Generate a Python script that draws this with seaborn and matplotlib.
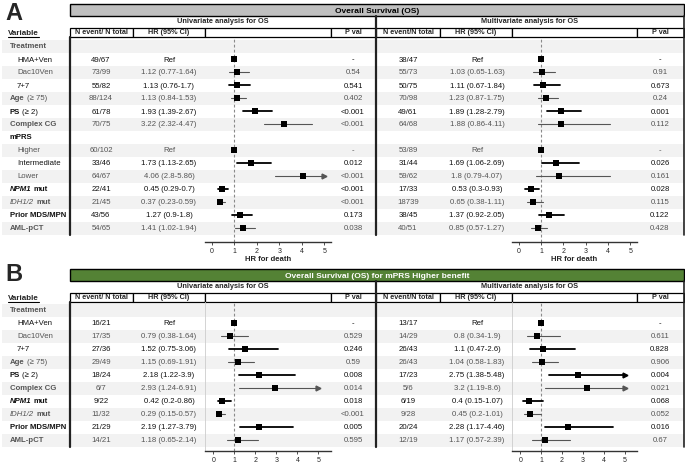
import numpy as np
import pandas as pd
import matplotlib
matplotlib.use("Agg")
import matplotlib.pyplot as plt
import seaborn as sns
from matplotlib.patches import Rectangle

nan = np.nan

# ---- Panel A data ----
labels_A = [
    [("Treatment", "bold")], [("HMA+Ven", "normal")], [("Dac10Ven", "normal")], [("7+7", "normal")],
    [("Age", "bold"), ("(≥ 75)", "normal")], [("PS", "bold"), ("(≥ 2)", "normal")],
    [("Complex CG", "bold")], [("mPRS", "bold")], [("Higher", "normal")], [("Intermediate", "normal")],
    [("Lower", "normal")], [("NPM1", "bolditalic"), ("mut", "bold")], [("IDH1/2", "italic"), ("mut", "bold")],
    [("Prior MDS/MPN", "bold")], [("AML-pCT", "bold")],
]
indent_A = [0, 1, 1, 1, 0, 0, 0, 0, 1, 1, 1, 0, 0, 0, 0]

n_A_uni = ["", "49/67", "73/99", "55/82", "88/124", "61/78", "70/75", "", "60/102", "33/46", "64/67",
           "22/41", "21/45", "43/56", "54/65"]
hr_A_uni = [nan, 1, 1.12, 1.13, 1.13, 1.93, 3.22, nan, 1, 1.73, 4.06, 0.45, 0.37, 1.27, 1.41]
lo_A_uni = [nan, nan, 0.77, 0.76, 0.84, 1.39, 2.32, nan, nan, 1.13, 2.8, 0.29, 0.23, 0.9, 1.02]
hi_A_uni = [nan, nan, 1.64, 1.7, 1.53, 2.67, 4.47, nan, nan, 2.65, 5.86, 0.7, 0.59, 1.8, 1.94]
p_A_uni = ["", "-", "0.54", "0.541", "0.402", "<0.001", "<0.001", "", "-", "0.012", "<0.001",
           "<0.001", "<0.001", "0.173", "0.038"]

n_A_mv = ["", "38/47", "55/73", "50/75", "70/98", "49/61", "64/68", "", "53/89", "31/44", "59/62",
          "17/33", "18739", "38/45", "40/51"]
hr_A_mv = [nan, 1, 1.03, 1.11, 1.23, 1.89, 1.88, nan, 1, 1.69, 1.8, 0.53, 0.65, 1.37, 0.85]
lo_A_mv = [nan, nan, 0.65, 0.67, 0.87, 1.28, 0.86, nan, nan, 1.06, 0.79, 0.3, 0.38, 0.92, 0.57]
hi_A_mv = [nan, nan, 1.63, 1.84, 1.75, 2.79, 4.11, nan, nan, 2.69, 4.07, 0.93, 1.11, 2.05, 1.27]
p_A_mv = ["", "-", "0.91", "0.673", "0.24", "0.001", "0.112", "", "-", "0.026", "0.161",
          "0.028", "0.115", "0.122", "0.428"]

# ---- Panel B data ----
labels_B = [
    [("Treatment", "bold")], [("HMA+Ven", "normal")], [("Dac10Ven", "normal")], [("7+7", "normal")],
    [("Age", "bold"), ("(≥ 75)", "normal")], [("PS", "bold"), ("(≥ 2)", "normal")],
    [("Complex CG", "bold")], [("NPM1", "bolditalic"), ("mut", "bold")], [("IDH1/2", "italic"), ("mut", "bold")],
    [("Prior MDS/MPN", "bold")], [("AML-pCT", "bold")],
]
indent_B = [0, 1, 1, 1, 0, 0, 0, 0, 0, 0, 0]

n_B_uni = ["", "16/21", "17/35", "27/36", "29/49", "18/24", "6/7", "9/22", "11/32", "21/29", "14/21"]
hr_B_uni = [nan, 1, 0.79, 1.52, 1.15, 2.18, 2.93, 0.42, 0.29, 2.19, 1.18]
lo_B_uni = [nan, nan, 0.38, 0.75, 0.69, 1.22, 1.24, 0.2, 0.15, 1.27, 0.65]
hi_B_uni = [nan, nan, 1.64, 3.06, 1.91, 3.9, 6.91, 0.86, 0.57, 3.79, 2.14]
p_B_uni = ["", "-", "0.529", "0.246", "0.59", "0.008", "0.014", "0.018", "<0.001", "0.005", "0.595"]

n_B_mv = ["", "13/17", "14/29", "26/43", "26/43", "17/23", "5/6", "6/19", "9/28", "20/24", "12/19"]
hr_B_mv = [nan, 1, 0.8, 1.1, 1.04, 2.75, 3.2, 0.4, 0.45, 2.28, 1.17]
lo_B_mv = [nan, nan, 0.34, 0.47, 0.58, 1.38, 1.19, 0.15, 0.2, 1.17, 0.57]
hi_B_mv = [nan, nan, 1.9, 2.6, 1.83, 5.48, 8.6, 1.07, 1.01, 4.46, 2.39]
p_B_mv = ["", "-", "0.611", "0.828", "0.906", "0.004", "0.021", "0.068", "0.052", "0.016", "0.67"]

ticks = [0, 1, 2, 3, 4, 5]
cap = 5.0

sns.set_style("white")
plt.rcParams['font.family'] = ['Liberation Sans', 'DejaVu Sans']

W, H = 685, 464
fig = plt.figure(figsize=(6.85, 4.64), dpi=100)
bg = fig.add_axes([0, 0, 1, 1])
bg.set_xlim(0, W)
bg.set_ylim(H, 0)
bg.axis('off')
renderer = fig.canvas.get_renderer()

DARK = "#111111"
LIGHT = "#555555"
FS = 5.6


def style_kw(st):
    return dict(fontweight="bold" if "bold" in st else "normal",
                fontstyle="italic" if "italic" in st else "normal")


def rich(x, y, parts, color):
    for txt, st in parts:
        t = bg.text(x, y, txt, fontsize=FS, color=color, va="center", ha="left", **style_kw(st))
        x += t.get_window_extent(renderer=renderer).width + 2.2


def hr_text(h, l, u):
    if np.isnan(h):
        return ""
    if np.isnan(l):
        return "Ref"
    return f"{h} ({l}-{u})"


def forest(rect, hr, lo, hi, row0, step, xlim, xlabel, left_line):
    l, t, r, b = rect
    ax = fig.add_axes([l / W, 1 - b / H, (r - l) / W, (b - t) / H])
    ax.patch.set_alpha(0)
    rows = np.arange(len(hr))
    tone = ["dark" if i % 2 else "light" for i in rows]
    df = pd.DataFrame({"row": rows, "hr": hr, "lo": lo, "hi": hi, "tone": tone})
    ax.axvline(1, color="#8a8a8a", ls=(0, (2.5, 2)), lw=0.8, zorder=1)
    for _, d in df.dropna(subset=["lo"]).iterrows():
        c = "black" if d.tone == "dark" else "#555555"
        lw = 1.3 if d.tone == "dark" else 0.8
        ax.plot([d.lo, min(d.hi, cap)], [d.row, d.row], color=c, lw=lw, zorder=2)
        if d.hi > cap:
            ax.plot([cap], [d.row], marker=">", ms=3.5, color=c, zorder=2)
    sns.scatterplot(data=df.dropna(subset=["hr"]), x="hr", y="row", marker="s", color="black",
                    s=14, linewidth=0, legend=False, ax=ax, zorder=3)
    ax.set_xlim(*xlim)
    ax.set_ylim((b - row0) / step, (t - row0) / step)
    ax.set_xticks(ticks)
    ax.set_yticks([])
    ax.tick_params(axis="x", labelsize=5, length=2, width=0.6, pad=1.5, color="#333333", bottom=True)
    for s in ["top", "right"]:
        ax.spines[s].set_visible(False)
    ax.spines["left"].set_visible(left_line)
    ax.spines["left"].set_color("#cccccc")
    ax.spines["left"].set_linewidth(0.6)
    ax.spines["bottom"].set_linewidth(1.0)
    ax.spines["bottom"].set_color("#333333")
    ax.set_xlabel(xlabel, fontsize=5.6, fontweight="bold", labelpad=1)
    ax.set_ylabel("")
    return ax


def panel(letter, letter_y, top, row0, step, axis_y, labels, indent, uni, mv, title, title_fc, title_c,
          xl_uni, xl_mv, xlabel, left_line):
    nrows = len(labels)
    last = row0 + step * (nrows - 1) + step / 2
    bg.text(5, letter_y, letter, fontsize=17, fontweight="bold", va="center", ha="left")
    # row shading
    for i in range(0, nrows, 2):
        bg.add_patch(Rectangle((2, row0 + i * step - step / 2), W - 3, step, fc="#f2f2f2", ec="none", zorder=0))
    # title bar
    bg.add_patch(Rectangle((70, top), 614, 12, fc=title_fc, ec="black", lw=1.0, zorder=2))
    bg.text(377, top + 6.3, title, fontsize=6, fontweight="bold", color=title_c, ha="center", va="center", zorder=3)
    bg.text(223, top + 16.7, "Univariate analysis for OS", fontsize=5.3, fontweight="bold", ha="center", va="center")
    bg.text(530, top + 16.7, "Multivariate analysis for OS", fontsize=5.3, fontweight="bold", ha="center", va="center")
    # header boxes
    hy0, hy1 = top + 23.5, top + 32.5
    boxes = [(70, 133, "N event/ N total"), (133, 205, "HR (95% CI)"), (205, 331, ""), (331, 376, "P val"),
             (376, 440, "N event/N total"), (440, 512, "HR (95% CI)"), (512, 637, ""), (637, 684, "P val")]
    for x0, x1, txt in boxes:
        bg.add_patch(Rectangle((x0, hy0), x1 - x0, hy1 - hy0, fc="white", ec="black", lw=0.9, zorder=2))
        bg.text((x0 + x1) / 2, (hy0 + hy1) / 2, txt, fontsize=5.2, fontweight="bold", ha="center", va="center", zorder=3)
    vt = bg.text(8, (hy0 + hy1) / 2 + 0.5, "Variable", fontsize=5.8, fontweight="bold", ha="left", va="center")
    vw = vt.get_window_extent(renderer=renderer).width
    bg.plot([8, 8 + vw], [hy1 + 0.5, hy1 + 0.5], color="black", lw=0.8)
    # thick column separators
    bg.plot([70, 70], [hy1, last], color="#222222", lw=1.6)
    bg.plot([376, 376], [top + 12, last], color="#222222", lw=1.6)
    bg.plot([684, 684], [top + 12, last], color="#222222", lw=1.2)
    # row texts
    for i in range(nrows):
        y = row0 + i * step
        col = DARK if i % 2 else LIGHT
        rich(17 if indent[i] else 10, y, labels[i], col)
        for (n, hr, lo, hi, p), (xn, xh, xp) in [(uni, (101, 169, 353)), (mv, (408, 477, 660))]:
            bg.text(xn, y, n[i], fontsize=FS, color=col, ha="center", va="center")
            bg.text(xh, y, hr_text(hr[i], lo[i], hi[i]), fontsize=FS, color=col, ha="center", va="center")
            bg.text(xp, y, p[i], fontsize=FS, color=col, ha="center", va="center")
    forest((205, hy1, 331, axis_y), uni[1], uni[2], uni[3], row0, step, xl_uni, xlabel, left_line)
    forest((512, hy1, 637, axis_y), mv[1], mv[2], mv[3], row0, step, xl_mv, xlabel, left_line)


panel("A", 14, 5, 47, 13.0, 243, labels_A, indent_A,
      (n_A_uni, hr_A_uni, lo_A_uni, hi_A_uni, p_A_uni), (n_A_mv, hr_A_mv, lo_A_mv, hi_A_mv, p_A_mv),
      "Overall Survival (OS)", "#bfbfbf", "black", (-0.3, 5.3), (-0.3, 5.3), "HR for death", False)

panel("B", 275, 270, 311, 13.0, 452, labels_B, indent_B,
      (n_B_uni, hr_B_uni, lo_B_uni, hi_B_uni, p_B_uni), (n_B_mv, hr_B_mv, lo_B_mv, hi_B_mv, p_B_mv),
      "Overall Survival (OS) for mPRS Higher benefit", "#548235", "white", (-0.4, 5.6), (-0.4, 5.6), "", True)

fig.savefig("out.png", dpi=100)
